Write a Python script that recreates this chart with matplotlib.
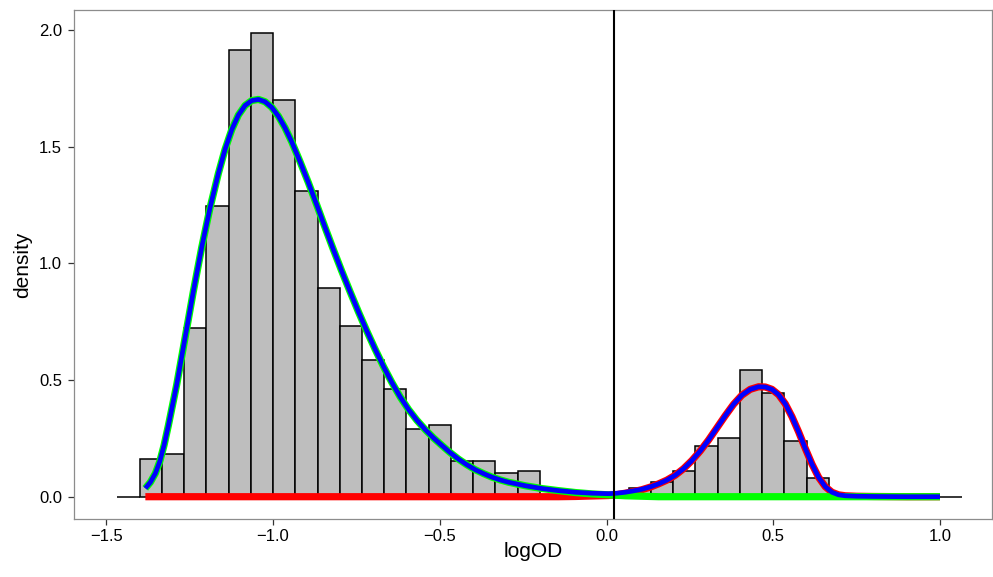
import matplotlib
matplotlib.use("Agg")
import matplotlib.pyplot as plt
import numpy as np

# ---------------- data ----------------
bin_start = -1.4667
bin_width = 1.0 / 15.0
hist_density = [0.000, 0.163, 0.182, 0.723, 1.247, 1.915, 1.988, 1.700, 1.311, 0.895,
                0.733, 0.587, 0.463, 0.289, 0.307, 0.154, 0.154, 0.100, 0.111,
                0.000, 0.000, 0.000, 0.000,
                0.039, 0.063, 0.110, 0.217, 0.253, 0.542, 0.444, 0.237, 0.081,
                0.000, 0.000, 0.000, 0.000, 0.000, 0.000]

curve_x = [-1.383, -1.368, -1.353, -1.340, -1.327, -1.314,
           -1.289, -1.264, -1.239, -1.214, -1.189, -1.164,
           -1.144, -1.124, -1.104, -1.084, -1.064, -1.044, -1.024, -1.004, -0.984, -0.964, -0.944,
           -0.919, -0.894, -0.869, -0.844, -0.819, -0.794, -0.769, -0.744, -0.719, -0.694,
           -0.669, -0.644, -0.619, -0.594, -0.569, -0.544, -0.519, -0.494, -0.469, -0.444,
           -0.419, -0.394, -0.369, -0.344, -0.319, -0.294,
           -0.244, -0.194, -0.144, -0.094, -0.044, -0.019,
           0.006, 0.031, 0.056, 0.081, 0.106, 0.131, 0.156, 0.181, 0.206, 0.231,
           0.256, 0.281, 0.306, 0.331, 0.356, 0.381, 0.406, 0.431, 0.456,
           0.476, 0.496, 0.516, 0.536, 0.556, 0.576, 0.596, 0.616, 0.636, 0.656,
           0.676, 0.696, 0.716, 0.750, 0.800, 0.900, 1.000]

# blue: fitted mixture density
mixture_density = [0.036, 0.062, 0.100, 0.150, 0.220, 0.305,
                   0.480, 0.680, 0.880, 1.068, 1.238, 1.385,
                   1.488, 1.572, 1.635, 1.676, 1.697, 1.702, 1.692, 1.668, 1.630, 1.580, 1.520,
                   1.435, 1.345, 1.250, 1.153, 1.058, 0.966, 0.878, 0.792, 0.710, 0.632,
                   0.558, 0.490, 0.428, 0.374, 0.328, 0.288, 0.252, 0.220, 0.189, 0.161,
                   0.137, 0.116, 0.099, 0.084, 0.072, 0.062,
                   0.047, 0.035, 0.026, 0.019, 0.015, 0.014,
                   0.013, 0.015, 0.019, 0.025, 0.032, 0.042, 0.055, 0.071, 0.092, 0.120,
                   0.155, 0.196, 0.243, 0.295, 0.347, 0.396, 0.435, 0.460, 0.471,
                   0.470, 0.460, 0.437, 0.398, 0.343, 0.278, 0.207, 0.140, 0.083, 0.043,
                   0.019, 0.008, 0.004, 0.002, 0.001, 0.000, 0.000]

# green: weighted first component
comp1_density = [0.036, 0.062, 0.100, 0.150, 0.220, 0.305,
                 0.480, 0.680, 0.880, 1.068, 1.238, 1.385,
                 1.488, 1.572, 1.635, 1.676, 1.697, 1.702, 1.692, 1.668, 1.630, 1.580, 1.520,
                 1.435, 1.345, 1.250, 1.153, 1.058, 0.966, 0.878, 0.792, 0.710, 0.632,
                 0.558, 0.490, 0.428, 0.374, 0.328, 0.288, 0.252, 0.220, 0.189, 0.161,
                 0.137, 0.116, 0.099, 0.084, 0.072, 0.062,
                 0.047, 0.035, 0.026, 0.018, 0.012, 0.010,
                 0.008, 0.006, 0.004, 0.003, 0.002, 0.001, 0.000, 0.000, 0.000, 0.000,
                 0.000, 0.000, 0.000, 0.000, 0.000, 0.000, 0.000, 0.000, 0.000,
                 0.000, 0.000, 0.000, 0.000, 0.000, 0.000, 0.000, 0.000, 0.000, 0.000,
                 0.000, 0.000, 0.000, 0.000, 0.000, 0.000, 0.000]

# red: weighted second component
comp2_density = [0.000, 0.000, 0.000, 0.000, 0.000, 0.000,
                 0.000, 0.000, 0.000, 0.000, 0.000, 0.000,
                 0.000, 0.000, 0.000, 0.000, 0.000, 0.000, 0.000, 0.000, 0.000, 0.000, 0.000,
                 0.000, 0.000, 0.000, 0.000, 0.000, 0.000, 0.000, 0.000, 0.000, 0.000,
                 0.000, 0.000, 0.000, 0.000, 0.000, 0.000, 0.000, 0.000, 0.000, 0.000,
                 0.000, 0.000, 0.000, 0.000, 0.000, 0.000,
                 0.000, 0.000, 0.000, 0.001, 0.003, 0.004,
                 0.005, 0.009, 0.015, 0.022, 0.030, 0.041, 0.055, 0.071, 0.092, 0.120,
                 0.155, 0.196, 0.243, 0.295, 0.347, 0.396, 0.435, 0.460, 0.471,
                 0.470, 0.460, 0.437, 0.398, 0.343, 0.278, 0.207, 0.140, 0.083, 0.043,
                 0.019, 0.008, 0.004, 0.002, 0.001, 0.000, 0.000]

cutoff = 0.022
x_ticks = [-1.5, -1.0, -0.5, 0.0, 0.5, 1.0]
x_tick_labels = ["\u22121.5", "\u22121.0", "\u22120.5", "0.0", "0.5", "1.0"]
y_ticks = [0.0, 0.5, 1.0, 1.5, 2.0]
y_tick_labels = ["0.0", "0.5", "1.0", "1.5", "2.0"]

# ---------------- plot ----------------
plt.rcParams['font.family'] = ['Liberation Sans', 'DejaVu Sans']

W, H = 993, 577
fig = plt.figure(figsize=(W / 100, H / 100), dpi=100)
ax = fig.add_axes([74 / W, 58 / H, 918 / W, 509 / H])

edges = bin_start + bin_width * np.arange(len(hist_density))
ax.bar(edges, hist_density, width=bin_width, align='edge',
       color='#BEBEBE', edgecolor='black', linewidth=1.1, zorder=2)

ax.plot(curve_x, comp2_density, color='#FF0000', lw=5.2,
        solid_capstyle='butt', solid_joinstyle='round', zorder=3)
ax.plot(curve_x, comp1_density, color='#00FF00', lw=5.2,
        solid_capstyle='butt', solid_joinstyle='round', zorder=4)
ax.plot(curve_x, mixture_density, color='#0000FF', lw=3.4,
        solid_capstyle='butt', solid_joinstyle='round', zorder=5)

ax.axvline(cutoff, color='black', lw=1.5, zorder=6)

ax.set_xlim(-1.597, 1.156)
ax.set_ylim(-0.0955, 2.085)

ax.set_xticks(x_ticks)
ax.set_xticklabels(x_tick_labels)
ax.set_yticks(y_ticks)
ax.set_yticklabels(y_tick_labels)

ax.tick_params(axis='both', direction='out', length=4.6, width=0.9,
               color='#333333', labelsize=12, labelcolor='black')
ax.tick_params(axis='x', pad=2.5)
ax.tick_params(axis='y', pad=4.0)

for s in ax.spines.values():
    s.set_color('#8C8C8C')
    s.set_linewidth(0.9)

ax.set_xlabel('logOD', fontsize=15, labelpad=-1.5)
ax.set_ylabel('density', fontsize=15, labelpad=5)

fig.savefig('out.png', dpi=100)
